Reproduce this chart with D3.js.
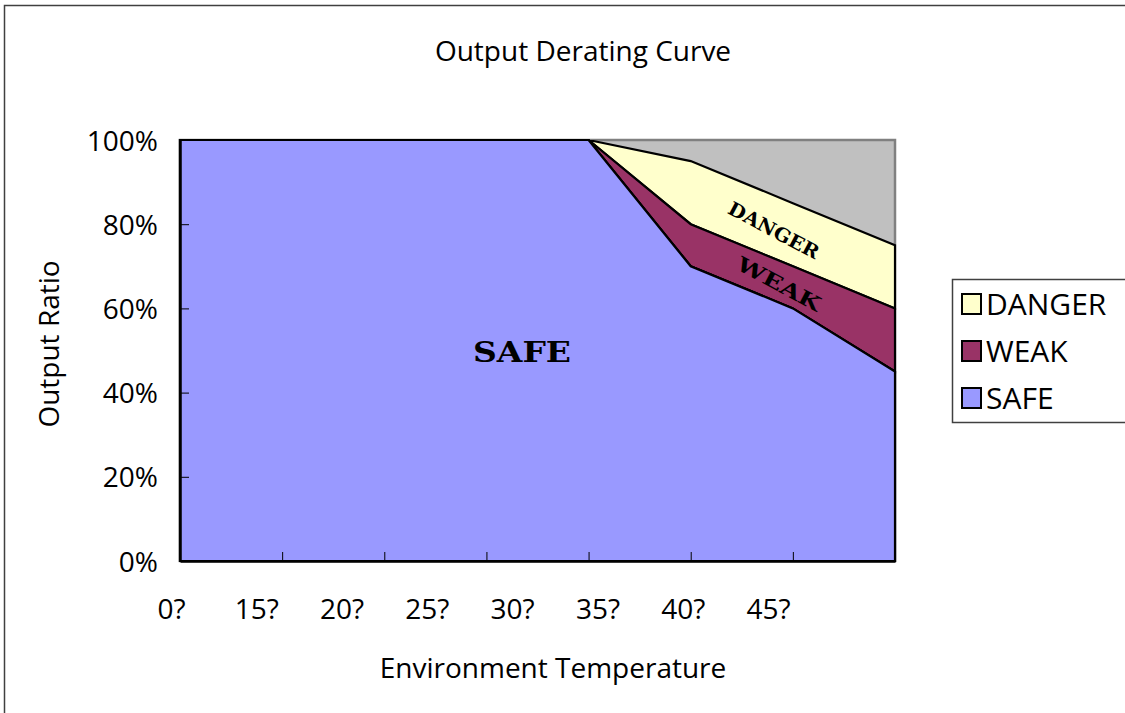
<!DOCTYPE html>
<html><head><meta charset="utf-8">
<script src="https://cdn.jsdelivr.net/npm/d3@7/dist/d3.min.js"></script>
<style>
body{margin:0;background:#fff;}
svg text{fill:#000;}
</style></head>
<body>
<svg id="c" width="1125" height="713"></svg>
<script>
const categories = ["0?","15?","20?","25?","30?","35?","40?","45?"];
const safe   = [100,100,100,100,100,70,60,45];
const weak   = [0,0,0,0,0,10,10,15];
const danger = [0,0,0,0,0,15,15,15];
const yTicks = [0,20,40,60,80,100];
const seriesNames = ["SAFE","WEAK","DANGER"];
const colors = {SAFE:"#9999FF", WEAK:"#993366", DANGER:"#FFFFCC"};

const SANS = "'Open Sans', sans-serif";
const svg = d3.select("#c");
const W = 1125, H = 713;
const pl = 180, pr = 895, pt = 140, pb = 561;

// outer frame (clipped at right/bottom)
svg.append("rect").attr("x",4.5).attr("y",5.5).attr("width",W+10).attr("height",H+10)
  .attr("fill","#fff").attr("stroke","#404040").attr("stroke-width",1.5);

const x = d3.scalePoint().domain(categories).range([pl,pr]);
const xl = d3.scalePoint().domain(categories).range([171,768]);
const y = d3.scaleLinear().domain([0,100]).range([pb,pt]);

// plot background
svg.append("rect").attr("x",pl).attr("y",pt).attr("width",pr-pl).attr("height",pb-pt)
  .attr("fill","#C0C0C0").attr("stroke","#808080").attr("stroke-width",2.5);

const table = categories.map((c,i)=>({cat:c, SAFE:safe[i], WEAK:weak[i], DANGER:danger[i]}));
const stack = d3.stack().keys(seriesNames)(table);
const area = d3.area().x(d=>x(d.data.cat)).y0(d=>y(d[0])).y1(d=>y(d[1]));

stack.slice().reverse().forEach(s=>{
  svg.append("path").attr("d",area(s))
    .attr("fill",colors[s.key]).attr("stroke","#000").attr("stroke-width",2.2)
    .attr("stroke-linejoin","miter");
});
svg.append("path").attr("d",area(stack[0])).attr("fill",colors.SAFE).attr("stroke","#000").attr("stroke-width",2.2);

// y axis
const ya = svg.append("g").attr("transform",`translate(${pl},0)`)
  .call(d3.axisLeft(y).tickValues(yTicks).tickFormat(d=>d+"%").tickSizeInner(-9).tickSizeOuter(0).tickPadding(22));
ya.select(".domain").attr("stroke","#000").attr("stroke-width",2.5);
ya.selectAll(".tick line").attr("stroke","#000").attr("stroke-width",1);
ya.selectAll(".tick text").style("font-size","28px").style("font-family",SANS).attr("dy","0.36em");

// x axis ticks
const xa = svg.append("g").attr("transform",`translate(0,${pb})`)
  .call(d3.axisBottom(x).tickSizeInner(-9).tickSizeOuter(0).tickFormat(""));
xa.select(".domain").attr("stroke","#000").attr("stroke-width",2.5);
xa.selectAll(".tick line").attr("stroke","#000").attr("stroke-width",1);
// x labels
const xla = svg.append("g").attr("transform",`translate(0,${pb})`)
  .call(d3.axisBottom(xl).tickSize(0).tickPadding(38));
xla.select(".domain").remove();
xla.selectAll(".tick text").style("font-size","28px").style("font-family",SANS);

// titles
const t = (sel)=>sel.style("font-family",SANS).style("font-size","28px").attr("text-anchor","middle");
t(svg.append("text").attr("x",583).attr("y",61)).text("Output Derating Curve");
t(svg.append("text").attr("x",553).attr("y",678)).text("Environment Temperature");
t(svg.append("text").attr("transform","translate(59,344) rotate(-90)")).text("Output Ratio");

// in-area labels
const lab = (txt,cx,cy,rot,fs,len)=>svg.append("text")
  .attr("transform",`translate(${cx},${cy}) rotate(${rot})`)
  .attr("text-anchor","middle").attr("dominant-baseline","central")
  .style("font-family","'DejaVu Serif', serif").style("font-weight","bold").style("font-size",fs+"px")
  .attr("textLength",len).attr("lengthAdjust","spacingAndGlyphs").text(txt);
lab("SAFE",522,352,0,28,98);
lab("DANGER",774,230,28,19,100);
lab("WEAK",779,284,28,20,92);

// legend
svg.append("rect").attr("x",952.5).attr("y",279.5).attr("width",200).attr("height",143)
  .attr("fill","#fff").attr("stroke","#404040").attr("stroke-width",1.5);
const legendItems = ["DANGER","WEAK","SAFE"];
legendItems.forEach((k,i)=>{
  const cy = 304 + i*47;
  svg.append("rect").attr("x",962).attr("y",cy-10).attr("width",19).attr("height",20)
    .attr("fill",colors[k]).attr("stroke","#000").attr("stroke-width",2);
  svg.append("text").attr("x",986).attr("y",cy).attr("dy","0.36em")
    .style("font-family",SANS).style("font-size","30px").text(k);
});
</script>
</body></html>
